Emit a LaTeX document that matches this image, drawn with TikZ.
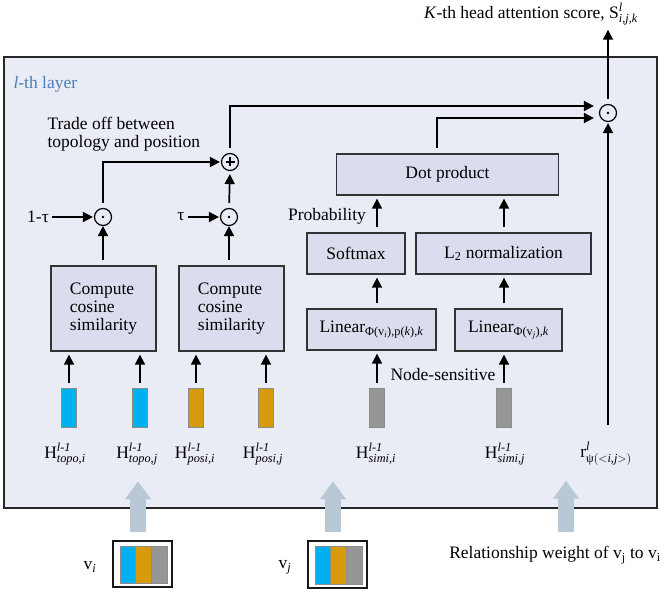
\documentclass[tikz,border=0pt]{standalone}
\usepackage{amsmath}
\usepackage{fontspec}
\setmainfont{Liberation Serif}
\usetikzlibrary{arrows.meta}

\definecolor{layerbg}{HTML}{E9EBF5}
\definecolor{boxbg}{HTML}{DADDEE}
\definecolor{topoblue}{HTML}{00B0F0}
\definecolor{posiorange}{HTML}{D69A0A}
\definecolor{simigray}{HTML}{969696}
\definecolor{inputarrow}{HTML}{B8C9D5}
\definecolor{layerblue}{HTML}{4A7EBB}

\tikzset{
  opbox/.style={draw=black!80, fill=boxbg, line width=1.3pt, inner sep=2pt},
  featbar/.style={draw=black!45, line width=0.6pt, minimum width=15pt, minimum height=39pt, inner sep=0pt},
  invec/.style={draw=black!90, line width=1.5pt, inner sep=0pt},
  arr/.style={line width=1.7pt, -{Triangle[length=10pt,width=10pt]}, shorten <=5pt, shorten >=3pt},
  opdot/.style={circle, draw, line width=1.2pt, minimum size=17pt, inner sep=0pt,
    path picture={\fill (path picture bounding box.center) circle (1.4pt);}},
  opplus/.style={circle, draw, line width=1.2pt, minimum size=17pt, inner sep=0pt,
    path picture={\draw[line width=1.1pt] ([xshift=-4.5pt]path picture bounding box.center) -- ([xshift=4.5pt]path picture bounding box.center);
      \draw[line width=1.1pt] ([yshift=-4.5pt]path picture bounding box.center) -- ([yshift=4.5pt]path picture bounding box.center);}},
  bigarrow/.style={draw=inputarrow, line width=16pt, -{Triangle[length=18pt,width=25pt]}}
}

\begin{document}
\begin{tikzpicture}[x=1pt,y=-1pt,font=\fontsize{17.5}{18}\selectfont]
\useasboundingbox (0,0) rectangle (666,593);

% layer frame
\draw[line width=1.6pt, draw=black!85, fill=layerbg] (4,57) rectangle (657,508);
\node[anchor=west, text=layerblue] (layername) at (10,84) {\textit{l}-th layer};

% topology and position branch
\node[featbar, fill=topoblue] (ti) at (69,407.5) {};
\node[featbar, fill=topoblue] (tj) at (140,407.5) {};
\node[featbar, fill=posiorange] (pi) at (196,407.5) {};
\node[featbar, fill=posiorange] (pj) at (266,407.5) {};
\node (hti) at (65,454) {$\text{H}^{\textit{l-1}}_{\textit{topo,i}}$};
\node (htj) at (137,454) {$\text{H}^{\textit{l-1}}_{\textit{topo,j}}$};
\node (hpi) at (195,454) {$\text{H}^{\textit{l-1}}_{\textit{posi,i}}$};
\node (hpj) at (263,454) {$\text{H}^{\textit{l-1}}_{\textit{posi,j}}$};

\node[opbox, minimum width=105pt, minimum height=85pt, align=left] (cos1) at (103.5,308.5) {Compute\\cosine\\similarity};
\node[opbox, minimum width=105pt, minimum height=85pt, align=left] (cos2) at (231.5,308.5) {Compute\\cosine\\similarity};

\node[opdot] (op1) at (103,217) {};
\node[opdot] (op2) at (229,217) {};
\node[opplus] (sum) at (230,162) {};
\node (omtau) at (38,217) {1-τ};
\node (tau) at (181,217) {τ};
\node[anchor=west, align=left] (tradeoff) at (44,134) {Trade off between\\topology and position};

\draw[arr] (ti.north) -- (ti.north |- cos1.south);
\draw[arr] (tj.north) -- (tj.north |- cos1.south);
\draw[arr] (pi.north) -- (pi.north |- cos2.south);
\draw[arr] (pj.north) -- (pj.north |- cos2.south);
\draw[arr, shorten >=0pt] (cos1.north -| op1) -- (op1.south);
\draw[arr, shorten >=0pt] (cos2.north -| op2) -- (op2.south);
\draw[arr, shorten <=0pt, shorten >=1pt] (omtau.east) -- (op1.west);
\draw[arr, shorten <=0pt, shorten >=1pt] (tau.east) -- (op2.west);
\draw[arr, shorten >=1pt] (op1.north) |- (sum.west);
\draw[arr] (op2.north) -- (sum.south);

% similarity branch
\node[featbar, fill=simigray] (si) at (377,407.5) {};
\node[featbar, fill=simigray] (sj) at (504,407.5) {};
\node (hsi) at (376,454) {$\text{H}^{\textit{l-1}}_{\textit{simi,i}}$};
\node (hsj) at (505,454) {$\text{H}^{\textit{l-1}}_{\textit{simi,j}}$};
\node (nodesens) at (443,375) {Node-sensitive};

\node[opbox, minimum width=129pt, minimum height=41pt] (lin1) at (371.5,329.5) {Linear\textsubscript{Φ(v\textsubscript{\textit{i}}),p(\textit{k}),\textit{k}}};
\node[opbox, minimum width=107pt, minimum height=42pt] (lin2) at (508.5,330) {Linear\textsubscript{Φ(v\textsubscript{\textit{j}}),\textit{k}}};
\node[opbox, minimum width=98pt, minimum height=41pt] (softmax) at (356,253.5) {Softmax};
\node[opbox, minimum width=175pt, minimum height=41pt] (l2norm) at (503.5,253.5) {L\textsubscript{2} normalization};
\node[opbox, minimum width=222pt, minimum height=41pt] (dotprod) at (447.5,174.5) {Dot product};
\node (prob) at (327,216) {Probability};

\draw[arr] (si.north) -- (si.north |- lin1.south);
\draw[arr] (sj.north) -- (sj.north |- lin2.south);
\draw[arr] (si |- lin1.north) -- (si |- softmax.south);
\draw[arr] (si |- softmax.north) -- (si |- dotprod.south);
\draw[arr] (sj |- lin2.north) -- (sj |- l2norm.south);
\draw[arr] (sj |- l2norm.north) -- (sj |- dotprod.south);

% attention score
\node[opdot] (final) at (608,113) {};
\node (title) at (531,14) {\textit{K}-th head attention score, $\text{S}^{\textit{l}}_{\textit{i,j,k}}$};
\node (rel) at (606,454) {$\text{r}^{\textit{l}}_{\text{ψ}(<\textit{i,j}>)}$};
\coordinate (relbot) at (608,425);

\draw[arr, shorten >=5pt] (sum.north) |- ([yshift=7pt]final.west);
\draw[arr, shorten >=5pt] ([xshift=-10.5pt]dotprod.north) |- ([yshift=-5pt]final.west);
\draw[arr, shorten >=1pt] (final.north) -- (final |- title.south);
\draw[arr, shorten <=0pt, shorten >=1pt] (relbot) -- (final.south);

% inputs
\node[invec, minimum width=59pt, minimum height=46pt] (vibox) at (142.5,564) {};
\node[featbar, fill=topoblue, minimum width=15.5pt, minimum height=37pt] (vib1) at (127.8,564.5) {};
\node[featbar, fill=posiorange, minimum width=16pt, minimum height=37pt] (vib2) at (143.5,564.5) {};
\node[featbar, fill=simigray, minimum width=15.5pt, minimum height=37pt] (vib3) at (159.3,564.5) {};
\node (vi) at (90,567) {v\textsubscript{\textit{i}}};

\node[invec, minimum width=59pt, minimum height=47pt] (vjbox) at (337.5,564.5) {};
\node[featbar, fill=topoblue, minimum width=15.5pt, minimum height=38pt] (vjb1) at (322.8,565) {};
\node[featbar, fill=posiorange, minimum width=16pt, minimum height=38pt] (vjb2) at (338.5,565) {};
\node[featbar, fill=simigray, minimum width=15.5pt, minimum height=38pt] (vjb3) at (354.3,565) {};
\node (vj) at (285,567) {v\textsubscript{\textit{j}}};

\node (relw) at (555,555) {Relationship weight of v\textsubscript{j} to v\textsubscript{i}};

\draw[bigarrow] ([xshift=-4.5pt,yshift=8pt]vibox.north) -- ++(0,-51);
\draw[bigarrow] ([xshift=-4.5pt,yshift=8pt]vjbox.north) -- ++(0,-51);
\draw[bigarrow] ([xshift=11pt,yshift=11pt]relw.north) -- ++(0,-51);

\end{tikzpicture}
\end{document}
